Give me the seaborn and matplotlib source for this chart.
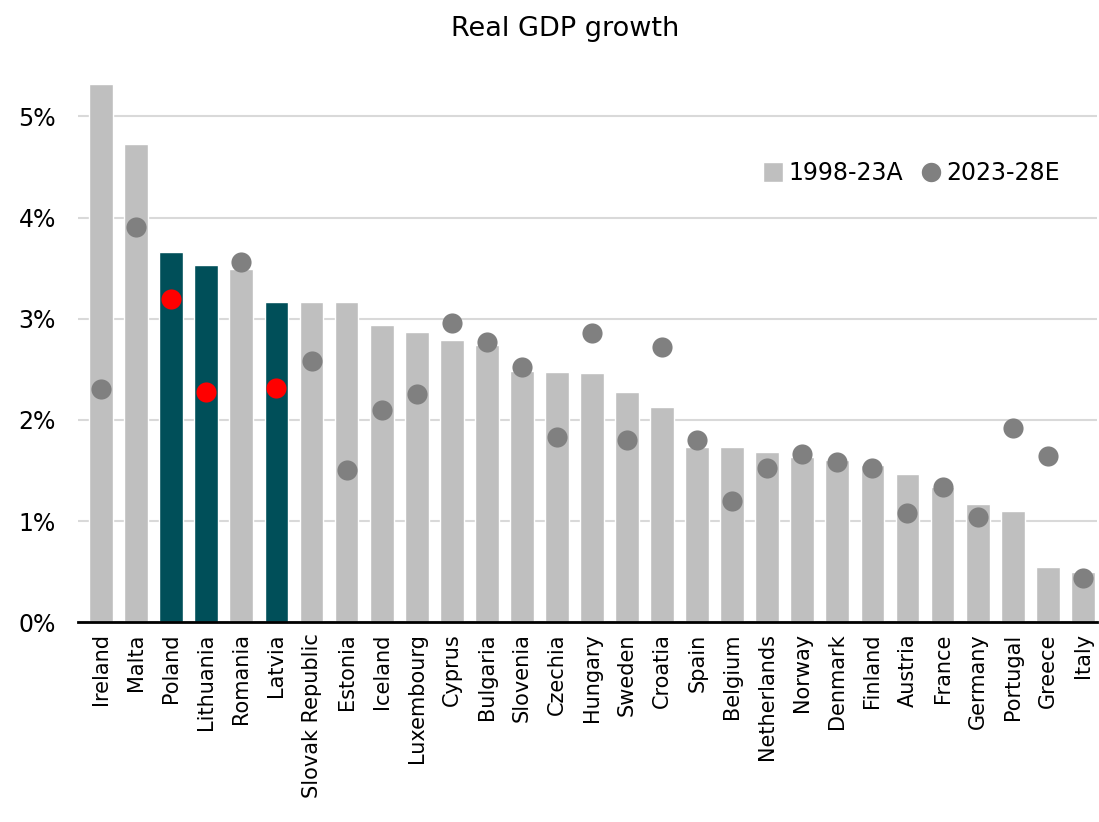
import pandas as pd
import numpy as np
import seaborn as sns
import matplotlib.pyplot as plt
from matplotlib.lines import Line2D

countries = ["Ireland", "Malta", "Poland", "Lithuania", "Romania", "Latvia",
             "Slovak Republic", "Estonia", "Iceland", "Luxembourg", "Cyprus",
             "Bulgaria", "Slovenia", "Czechia", "Hungary", "Sweden", "Croatia",
             "Spain", "Belgium", "Netherlands", "Norway", "Denmark", "Finland",
             "Austria", "France", "Germany", "Portugal", "Greece", "Italy"]
hist_growth = [5.32, 4.73, 3.66, 3.53, 3.49, 3.17, 3.17, 3.17, 2.94, 2.87, 2.79,
               2.74, 2.48, 2.47, 2.46, 2.28, 2.13, 1.73, 1.73, 1.68, 1.63, 1.60,
               1.55, 1.47, 1.34, 1.17, 1.10, 0.55, 0.50]
fcst_growth = [2.31, 3.91, 3.19, 2.28, 3.56, 2.32, 2.58, 1.50, 2.10, 2.26, 2.96,
               2.77, 2.52, 1.83, 2.86, 1.80, 2.72, 1.80, 1.20, 1.52, 1.66, 1.58,
               1.52, 1.08, 1.34, 1.04, 1.92, 1.64, 0.44]
highlight = ["Poland", "Lithuania", "Latvia"]

df = pd.DataFrame({"country": countries, "hist": hist_growth, "fcst": fcst_growth})

bar_grey = "#bfbfbf"
teal = "#004f59"
dot_grey = "#808080"
bar_pal = {c: (teal if c in highlight else bar_grey) for c in countries}
dot_pal = {c: ("#ff0000" if c in highlight else dot_grey) for c in countries}

sns.set_style("white")
plt.rcParams["font.family"] = ["DejaVu Sans"]
plt.rcParams["text.color"] = "black"
plt.rcParams["xtick.color"] = "black"
plt.rcParams["ytick.color"] = "black"

fig = plt.figure(figsize=(10.99, 8.22), dpi=100)
ax = fig.add_axes([0.071, 0.243, 0.927, 0.677])

sns.barplot(data=df, x="country", y="hist", hue="country", palette=bar_pal,
            width=0.68, legend=False, ax=ax, saturation=1)
sns.stripplot(data=df, x="country", y="fcst", hue="country", palette=dot_pal,
              jitter=False, size=14.5, legend=False, ax=ax, zorder=3)

ax.set_ylim(0, 5.5)
ax.set_xlim(-0.66, 28.4)
ax.set_yticks([0, 1, 2, 3, 4, 5])
ax.set_yticklabels(["0%", "1%", "2%", "3%", "4%", "5%"], fontsize=17)
ax.tick_params(axis="x", labelrotation=90, labelsize=15, length=0, pad=8)
ax.tick_params(axis="y", length=0, pad=16)
ax.yaxis.grid(True, color="#d9d9d9", linewidth=1.5)
ax.set_axisbelow(True)
for s in ["top", "right", "left"]:
    ax.spines[s].set_visible(False)
ax.spines["bottom"].set_color("black")
ax.spines["bottom"].set_linewidth(2)
ax.set_xlabel("")
ax.set_ylabel("")

fig.suptitle("Real GDP growth", fontsize=19.5, x=0.514, y=0.98)

handles = [Line2D([0], [0], marker="s", color="w", markerfacecolor=bar_grey, markersize=15, label="1998-23A"),
           Line2D([0], [0], marker="o", color="w", markerfacecolor=dot_grey, markersize=15, label="2023-28E")]
ax.legend(handles=handles, loc="upper right", bbox_to_anchor=(0.985, 0.867), ncol=2,
          frameon=False, fontsize=17, handletextpad=0.05, columnspacing=0.6, handlelength=1.2)

plt.savefig("out.png", dpi=100)
